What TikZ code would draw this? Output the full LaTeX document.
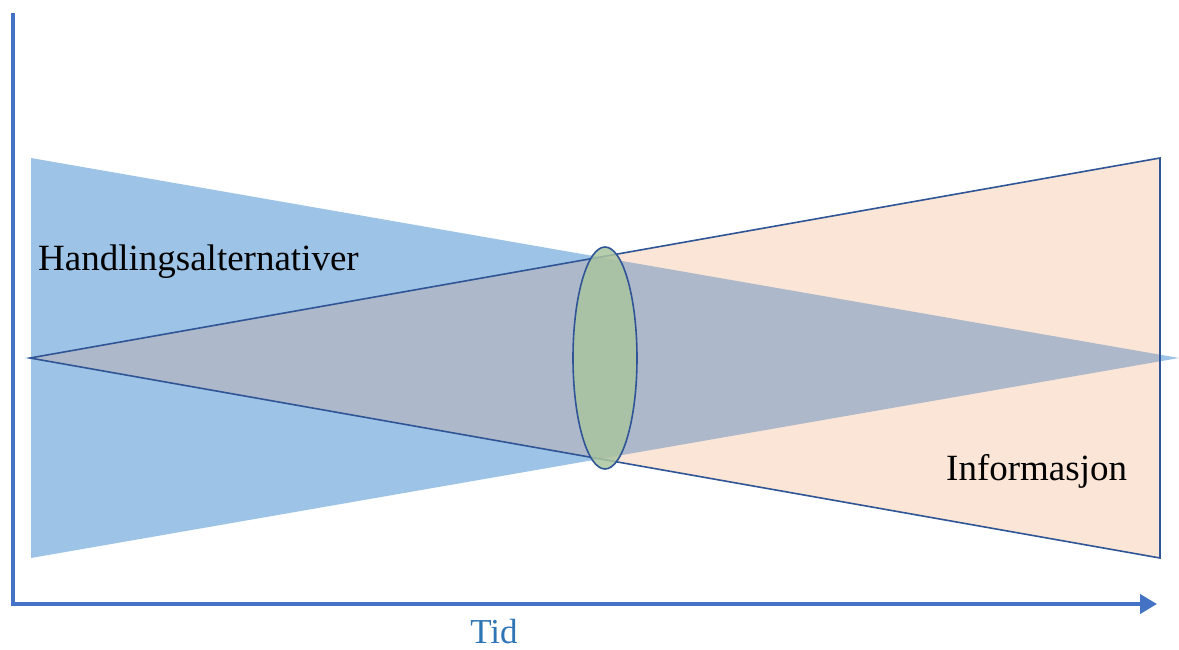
\documentclass[tikz,border=0pt]{standalone}
\usepackage{fontspec}
\setmainfont{Liberation Serif}
\usetikzlibrary{arrows.meta}

\definecolor{azulclaro}{HTML}{9DC3E6}
\definecolor{pessego}{HTML}{FBE5D6}
\definecolor{cinzaazul}{HTML}{ADB9CA}
\definecolor{verde}{HTML}{A9C4A0}
\definecolor{azulescuro}{HTML}{2F5597}
\definecolor{eixoazul}{HTML}{4472C4}
\definecolor{azultexto}{HTML}{2E75B6}

\begin{document}
\begin{tikzpicture}[
            x=1pt,
            y=-1pt,
            >={Triangle[length=17pt,width=19pt]},
            eixo/.style={
                draw=eixoazul,
                line width=4pt
            },
            contorno/.style={
                draw=azulescuro,
                line width=1.6pt
            },
            rotulo/.style={
                font=\fontsize{37}{40}\selectfont,
                inner sep=0pt,
                anchor=base west
            }
        ]
            \useasboundingbox (0,0) rectangle (1179,649);

            % Vertices dos triangulos
            \coordinate (acaoTopo) at (31,158);
            \coordinate (acaoBase) at (31,558);
            \coordinate (acaoPonta) at (1179,358);
            \coordinate (infoPonta) at (30,358);
            \coordinate (infoTopo) at (1160,158);
            \coordinate (infoBase) at (1160,558);

            % Triangulo azul (alternativas)
            \fill [azulclaro] (acaoTopo) -- (acaoPonta) -- (acaoBase) -- cycle;

            % Triangulo claro (informacao)
            \fill [pessego] (infoPonta) -- (infoTopo) -- (infoBase) -- cycle;

            % Regiao comum aos dois
            \begin{scope}
                \clip (infoPonta) -- (infoTopo) -- (infoBase) -- cycle;
                \fill [cinzaazul] (acaoTopo) -- (acaoPonta) -- (acaoBase) -- cycle;
            \end{scope}
            \draw [contorno] (infoPonta) -- (infoTopo) -- (infoBase) -- cycle;

            % Elipse no cruzamento
            \draw [contorno, fill=verde, fill opacity=0.85] (605,358) ellipse [x radius=32, y radius=111];

            % Eixos (tempo para a direita)
            \coordinate (origem) at (12.5,604);
            \draw [eixo, ->] (12.5,13) -- (origem) -- (1157,604);

            % Textos
            \node [rotulo] (acoes) at (38,270) {Handlingsalternativer};
            \node [rotulo] (info) at (946,480) {Informasjon};
            \node [rotulo, anchor=base, text=azultexto, font=\fontsize{35}{38}\selectfont] (tempo) at (494,643) {Tid};
        \end{tikzpicture}
\end{document}
